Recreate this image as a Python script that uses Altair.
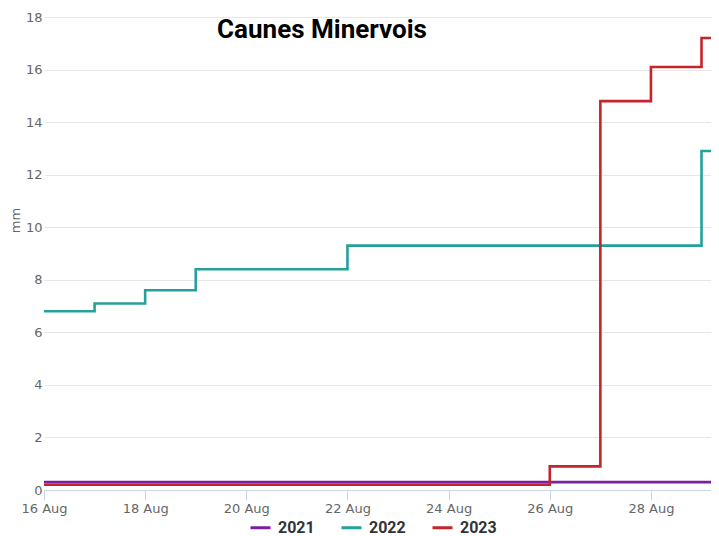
import altair as alt
import pandas as pd

# ---- data ----
dates = ["2023-08-16", "2023-08-17", "2023-08-18", "2023-08-19", "2023-08-20",
         "2023-08-21", "2023-08-22", "2023-08-23", "2023-08-24", "2023-08-25",
         "2023-08-26", "2023-08-27", "2023-08-28", "2023-08-29", "2023-08-30"]
rain_2021 = [0.3, 0.3, 0.3, 0.3, 0.3, 0.3, 0.3, 0.3, 0.3, 0.3, 0.3, 0.3, 0.3, 0.3, 0.3]
rain_2022 = [6.8, 7.1, 7.6, 8.4, 8.4, 8.4, 9.3, 9.3, 9.3, 9.3, 9.3, 9.3, 9.3, 12.9, 12.9]
rain_2023 = [0.2, 0.2, 0.2, 0.2, 0.2, 0.2, 0.2, 0.2, 0.2, 0.2, 0.9, 14.8, 16.1, 17.2, 17.2]
years = ["2021", "2022", "2023"]
colors = ["#7b1fa2", "#26a09c", "#c4242b"]
title_text = "Caunes Minervois"
y_ticks = [0, 2, 4, 6, 8, 10, 12, 14, 16, 18]
x_tick_days = [16, 18, 20, 22, 24, 26, 28]

rows = []
for yr, vals in zip(years, [rain_2021, rain_2022, rain_2023]):
    for d, v in zip(dates, vals):
        rows.append({"date": d, "year": yr, "mm": v})
df = pd.DataFrame(rows)

x_dom = [alt.DateTime(year=2023, month=8, date=16, utc=True),
         alt.DateTime(year=2023, month=8, date=29, hours=4, minutes=30, utc=True)]
x_vals = [alt.DateTime(year=2023, month=8, date=d, utc=True) for d in x_tick_days]

lines = alt.Chart(df).mark_line(interpolate="step-after", strokeWidth=2.6, clip=True).encode(
    x=alt.X("date:T",
            scale=alt.Scale(type="utc", domain=x_dom),
            axis=alt.Axis(values=x_vals, labelExpr="utcFormat(datum.value, '%-d %b')",
                          title=None,
                          grid=False, domainColor="#ccd6eb", tickColor="#ccd6eb",
                          tickSize=10, labelPadding=2, labelFont="DejaVu Sans",
                          labelFontSize=13, labelColor="#666666", labelFlush=False)),
    y=alt.Y("mm:Q",
            scale=alt.Scale(domain=[0, 18], nice=False),
            axis=alt.Axis(values=y_ticks, title="mm", domain=False, ticks=False,
                          grid=True, gridColor="#e6e6e6", labelPadding=2,
                          labelFont="DejaVu Sans", labelFontSize=13, labelColor="#666666",
                          titleFont="DejaVu Sans", titleFontSize=13, titleColor="#666666",
                          titleFontWeight="normal", titleAngle=-90, titleBaseline="middle",
                          titleX=-29, titleY=203)),
    color=alt.Color("year:N",
                    scale=alt.Scale(domain=years, range=colors),
                    legend=alt.Legend(title=None, orient="none", legendX=205, legendY=499,
                                      direction="horizontal", symbolType="stroke",
                                      symbolSize=400, symbolStrokeWidth=3,
                                      labelFont="Roboto", labelFontWeight="bold",
                                      labelFontSize=16, labelColor="#333333",
                                      labelOffset=6, columnPadding=20)),
)

title = alt.Chart(pd.DataFrame({"t": [title_text]})).mark_text(
    font="Roboto", fontWeight="bold", fontSize=26, color="#000000",
    align="center", baseline="middle"
).encode(x=alt.value(278), y=alt.value(13), text="t:N")

chart = alt.layer(lines, title).properties(
    width=667, height=473,
    autosize=alt.AutoSizeParams(type="none"),
    padding={"left": 36, "top": 9, "right": 0, "bottom": 46},
).configure_view(stroke=None)

chart.save("out.html", embed_options={"renderer": "svg", "actions": False})
